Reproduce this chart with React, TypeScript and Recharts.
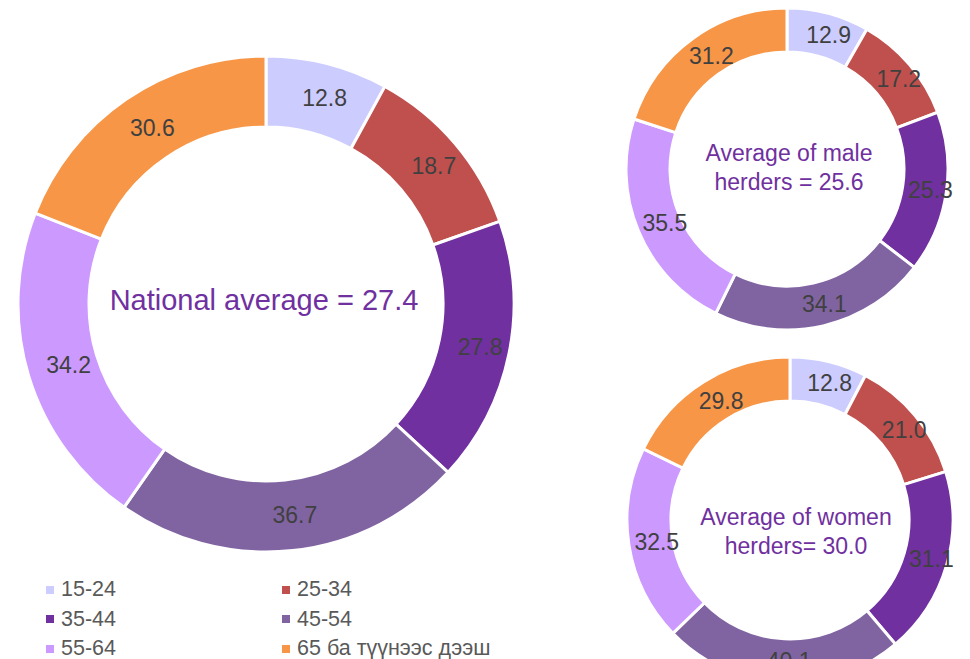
import { PieChart, Pie, Cell, Label } from 'recharts';

const ageGroups = ['15-24', '25-34', '35-44', '45-54', '55-64', '65 ба түүнээс дээш'];
const nationalValues = [12.8, 18.7, 27.8, 36.7, 34.2, 30.6];
const maleValues = [12.9, 17.2, 25.3, 34.1, 35.5, 31.2];
const womenValues = [12.8, 21.0, 31.1, 40.1, 32.5, 29.8];

const colors = ['#CCCCFF', '#C0504D', '#7030A0', '#8064A2', '#CC99FF', '#F79646'];

const FONT = '"Liberation Sans", Arial, sans-serif';
const RADIAN = Math.PI / 180;

const toRows = (values: number[]) => ageGroups.map((name, i) => ({ name, value: values[i] }));

// labels sit in the middle of the ring, nudged right a little like the original
function sliceLabel(props: any) {
  const { cx, cy, midAngle, innerRadius, outerRadius, value } = props;
  const r = (innerRadius + outerRadius) / 2;
  const x = cx + r * Math.cos(-midAngle * RADIAN) + 6;
  const y = cy + r * Math.sin(-midAngle * RADIAN);
  return (
    <text x={x} y={y} fill="#404040" fontSize={23} fontFamily={FONT} textAnchor="middle" dominantBaseline="central">
      {value.toFixed(1)}
    </text>
  );
}

function centerText(lines: string[], cx: number, cy: number, size: number, gap: number) {
  return () => (
    <text x={cx} y={cy} fill="#7030A0" fontSize={size} fontFamily={FONT} textAnchor="middle">
      {lines.map((line, i) => (
        <tspan key={i} x={cx} dy={i === 0 ? -((lines.length - 1) * gap) / 2 : gap} dominantBaseline="central">
          {line}
        </tspan>
      ))}
    </text>
  );
}

export default function App() {
  return (
    <div style={{ position: 'absolute', left: 0, top: 0, width: 970, height: 659, overflow: 'hidden', background: '#fff' }}>
      <PieChart width={970} height={659} margin={{ top: 0, right: 0, bottom: 0, left: 0 }}>
        <Pie
          data={toRows(nationalValues)}
          dataKey="value"
          cx={266}
          cy={304}
          innerRadius={177}
          outerRadius={248}
          startAngle={90}
          endAngle={-270}
          stroke="#fff"
          strokeWidth={3}
          label={sliceLabel}
          labelLine={false}
          isAnimationActive={false}
        >
          {nationalValues.map((_, i) => (
            <Cell key={i} fill={colors[i]} />
          ))}
          <Label position="center" content={centerText(['National average = 27.4'], 264, 300, 29, 0)} />
        </Pie>
        <Pie
          data={toRows(maleValues)}
          dataKey="value"
          cx={787}
          cy={169}
          innerRadius={117}
          outerRadius={161}
          startAngle={90}
          endAngle={-270}
          stroke="#fff"
          strokeWidth={3}
          label={sliceLabel}
          labelLine={false}
          isAnimationActive={false}
        >
          {maleValues.map((_, i) => (
            <Cell key={i} fill={colors[i]} />
          ))}
          <Label position="center" content={centerText(['Average of male', 'herders = 25.6'], 789, 167, 23, 29)} />
        </Pie>
        <Pie
          data={toRows(womenValues)}
          dataKey="value"
          cx={790}
          cy={520}
          innerRadius={119}
          outerRadius={163}
          startAngle={90}
          endAngle={-270}
          stroke="#fff"
          strokeWidth={3}
          label={sliceLabel}
          labelLine={false}
          isAnimationActive={false}
        >
          {womenValues.map((_, i) => (
            <Cell key={i} fill={colors[i]} />
          ))}
          <Label position="center" content={centerText(['Average of women', 'herders= 30.0'], 796, 531, 23, 29)} />
        </Pie>
      </PieChart>
      <div
        style={{
          position: 'absolute',
          left: 46,
          top: 575,
          display: 'grid',
          gridTemplateColumns: '236px 280px',
          fontFamily: FONT,
          fontSize: 21.5,
          color: '#595959',
        }}
      >
        {ageGroups.map((name, i) => (
          <div key={name} style={{ display: 'flex', alignItems: 'center', height: 29.5, lineHeight: '29px', whiteSpace: 'nowrap' }}>
            <span style={{ width: 8, height: 8, background: colors[i], marginRight: 7, display: 'inline-block' }} />
            {name}
          </div>
        ))}
      </div>
    </div>
  );
}
